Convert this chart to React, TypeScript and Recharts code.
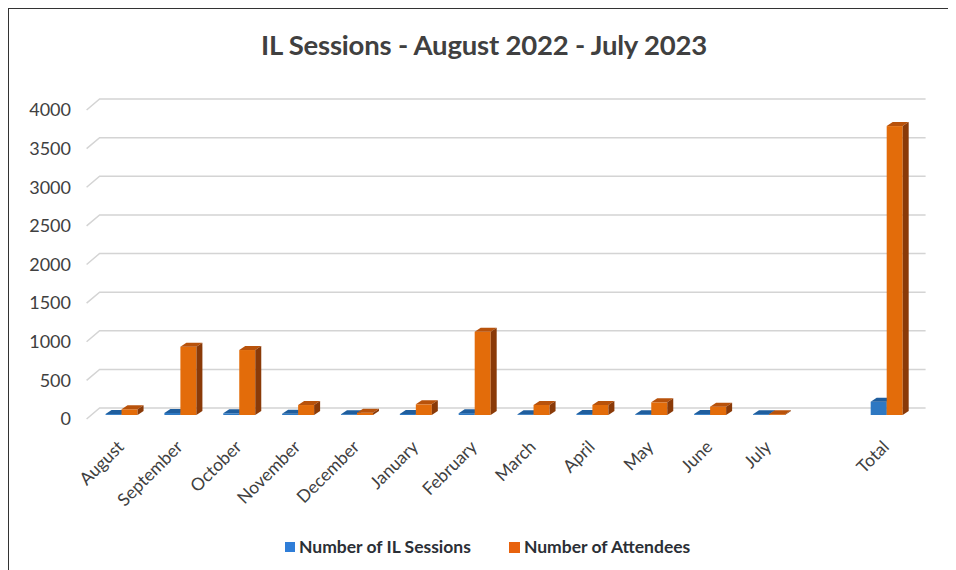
import { BarChart, Bar, XAxis, YAxis, CartesianGrid } from 'recharts';

// categories (one empty slot before Total, as in the original)
const months = [
  'August', 'September', 'October', 'November', 'December', 'January',
  'February', 'March', 'April', 'May', 'June', 'July', '', 'Total',
];
const sessions = [12, 26, 22, 16, 8, 14, 24, 10, 12, 10, 12, 4, null, 172];
const attendees = [74, 884, 841, 129, 30, 138, 1078, 130, 130, 164, 108, 5, null, 3740];
const yTicks = [0, 500, 1000, 1500, 2000, 2500, 3000, 3500, 4000];

const data = months.map((month, i) => ({
  month,
  sessions: sessions[i],
  attendees: attendees[i],
}));

const DX = 6;
const DY = 4;

function bar3D(front: string, top: string, side: string) {
  return (props: any) => {
    const { x, y, width, height } = props;
    if (x == null || y == null || !width) return <g />;
    const h = Math.max(height, 0.8);
    const y0 = y + height - h;
    const b = y + height;
    const r = x + width;
    return (
      <g>
        <rect x={x} y={y0} width={width} height={h} fill={front} />
        <polygon points={`${x},${y0} ${x + DX},${y0 - DY} ${r + DX},${y0 - DY} ${r},${y0}`} fill={top} />
        <polygon points={`${r},${y0} ${r + DX},${y0 - DY} ${r + DX},${b - DY} ${r},${b}`} fill={side} />
      </g>
    );
  };
}

const gridLine = (p: any) => {
  const { x1, x2, y1 } = p;
  return (
    <path
      key={p.key}
      d={`M${x1 - 6},${y1 + 4} L${x1 + 7},${y1 - 7} L${x2 + 9},${y1 - 7}`}
      stroke="#d4d4d4"
      strokeWidth={1.5}
      fill="none"
    />
  );
};

const YTick = (p: any) => (
  <text x={62} y={p.y + 4} dy="0.35em" textAnchor="end" fontSize={18} fill="#404040" fontFamily="Lato">
    {p.payload.value}
  </text>
);

const XTick = (p: any) => {
  const x = p.x + 3;
  const y = 439;
  return (
    <text x={x} y={y} textAnchor="end" fontSize={17.5} fill="#404040" fontFamily="Lato" transform={`rotate(-45, ${x}, ${y})`}>
      {p.payload.value}
    </text>
  );
};

export default function App() {
  return (
    <div
      style={{
        position: 'relative',
        width: 940,
        height: 570,
        border: '1px solid #333',
        background: '#fff',
        fontFamily: 'Lato, sans-serif',
      }}
    >
      <div
        style={{
          position: 'absolute',
          top: 20,
          left: 0,
          width: 950,
          textAlign: 'center',
          fontSize: 27.5,
          fontWeight: 700,
          color: '#404040',
          lineHeight: '32px',
          letterSpacing: -0.2,
        }}
      >
        IL Sessions - August 2022 - July 2023
      </div>
      <BarChart
        width={940}
        height={561}
        data={data}
        margin={{ top: 97, right: 32.4, left: 0, bottom: 0 }}
        barCategoryGap="22%"
        barGap={0}
      >
        <CartesianGrid vertical={false} horizontal={gridLine} />
        <YAxis
          type="number"
          domain={[0, 4000]}
          ticks={yTicks}
          width={83.6}
          axisLine={false}
          tickLine={false}
          tick={YTick}
          interval={0}
        />
        <XAxis
          dataKey="month"
          height={155}
          axisLine={false}
          tickLine={false}
          interval={0}
          tick={XTick}
        />
        <Bar dataKey="sessions" isAnimationActive={false} shape={bar3D('#2E78C2', '#1F5E9E', '#1F4E79')} />
        <Bar dataKey="attendees" isAnimationActive={false} shape={bar3D('#E36C0A', '#B8520B', '#8A3A08')} />
      </BarChart>
      <div
        style={{
          position: 'absolute',
          top: 528,
          left: 276,
          display: 'flex',
          alignItems: 'center',
          fontSize: 17.5,
          fontWeight: 700,
          color: '#2b2f36',
          lineHeight: '20px',
        }}
      >
        <span style={{ width: 10, height: 10, background: '#2F7ED8', marginRight: 4, display: 'inline-block' }} />
        <span>Number of IL Sessions</span>
        <span style={{ width: 11, height: 11, background: '#E8620D', marginLeft: 38, marginRight: 4, display: 'inline-block' }} />
        <span>Number of Attendees</span>
      </div>
    </div>
  );
}
